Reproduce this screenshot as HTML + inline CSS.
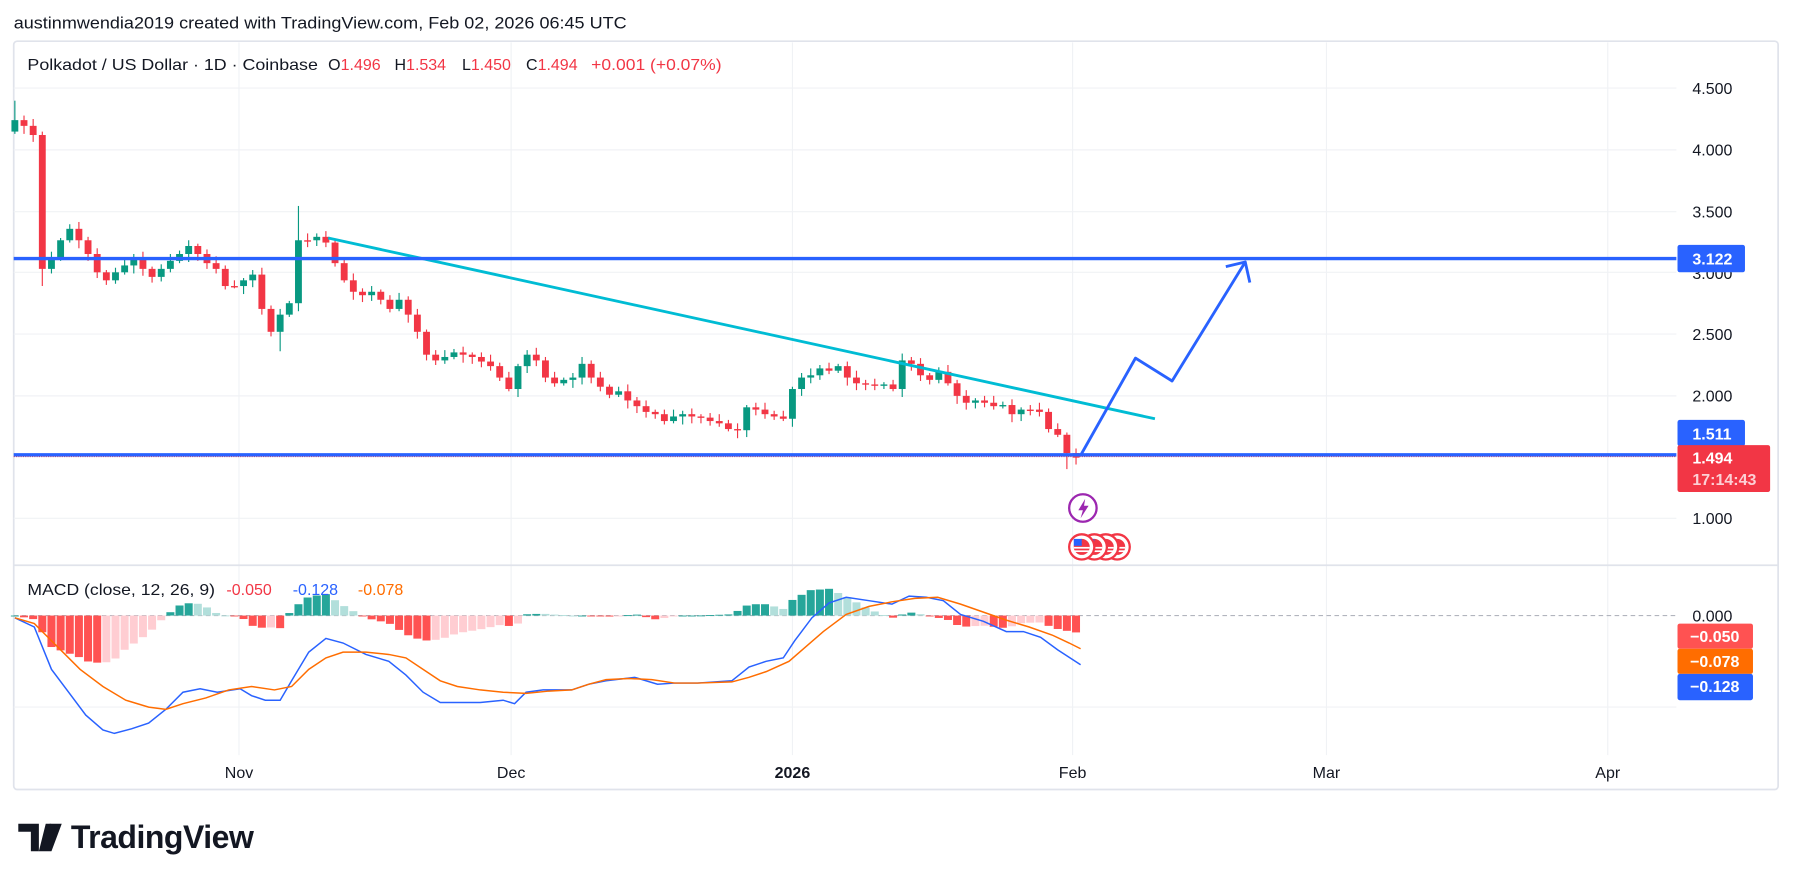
<!DOCTYPE html>
<html><head><meta charset="utf-8"><style>
html,body{margin:0;padding:0;background:#fff;width:1793px;height:881px;overflow:hidden}
svg{display:block}
text{font-family:"Liberation Sans","DejaVu Sans",sans-serif}
</style></head><body>
<svg id="s" width="1793" height="881" viewBox="0 0 1568 770" preserveAspectRatio="none" xmlns="http://www.w3.org/2000/svg">
<rect x="0" y="0" width="1568" height="770" fill="#fff"/>
<text x="12" y="25" font-size="14.5" fill="#131722" textLength="536" lengthAdjust="spacingAndGlyphs">austinmwendia2019 created with TradingView.com, Feb 02, 2026 06:45 UTC</text>
<rect x="12" y="36" width="1543" height="654" fill="#fff" stroke="#e0e3eb" stroke-width="1.5" rx="3"/>
<g id="grid" stroke="#f0f2f5" stroke-width="1"></g>
<line x1="12" y1="494" x2="1555" y2="494" stroke="#e0e3eb" stroke-width="1.5"/>
<line x1="12" y1="538" x2="1466" y2="538" stroke="#b2b5be" stroke-width="1" stroke-dasharray="4,3"/>
<g id="hist"></g>
<g id="candles"></g>
<polyline id="blue" fill="none" stroke="#2962ff" stroke-width="1.3"/>
<polyline id="orange" fill="none" stroke="#ff6d00" stroke-width="1.3"/>
<line x1="287" y1="208" x2="1010" y2="366" stroke="#00bcd4" stroke-width="2.5"/>
<line x1="12" y1="226" x2="1466" y2="226" stroke="#2962ff" stroke-width="3"/>
<line x1="12" y1="399" x2="1466" y2="399" stroke="#f23645" stroke-width="1" stroke-dasharray="1,1"/>
<line x1="12" y1="397.5" x2="1466" y2="397.5" stroke="#2962ff" stroke-width="3"/>
<polyline points="945,398 993,313 1025,333 1089,229" fill="none" stroke="#2962ff" stroke-width="2.5" stroke-linejoin="round"/>
<polyline points="1072,233 1089,229 1093,247" fill="none" stroke="#2962ff" stroke-width="2.5" stroke-linejoin="round"/>
<circle cx="947" cy="444" r="12" fill="#fff" stroke="#9c27b0" stroke-width="2"/>
<path d="M949 436 L943 446 L947 446 L945 453 L952 442 L948 442 Z" fill="#9c27b0"/>
<g id="flags"></g>
<g font-size="14" fill="#131722">
<text x="24" y="61" textLength="254" lengthAdjust="spacingAndGlyphs">Polkadot / US Dollar · 1D · Coinbase</text>
<text x="287" y="61">O<tspan fill="#f23645">1.496</tspan></text>
<text x="345" y="61">H<tspan fill="#f23645">1.534</tspan></text>
<text x="404" y="61">L<tspan fill="#f23645">1.450</tspan></text>
<text x="460" y="61">C<tspan fill="#f23645">1.494</tspan></text>
<text x="517" y="61" fill="#f23645" textLength="114" lengthAdjust="spacingAndGlyphs">+0.001 (+0.07%)</text>
<text x="24" y="520" textLength="164" lengthAdjust="spacingAndGlyphs">MACD (close, 12, 26, 9)</text>
<text x="198" y="520" fill="#f23645">-0.050</text>
<text x="256" y="520" fill="#2962ff">-0.128</text>
<text x="313" y="520" fill="#ff6d00">-0.078</text>
</g>
<g font-size="14" fill="#131722">
<text x="1480" y="82">4.500</text><text x="1480" y="136">4.000</text><text x="1480" y="190">3.500</text><text x="1480" y="244">3.000</text><text x="1480" y="297">2.500</text><text x="1480" y="351">2.000</text><text x="1480" y="458">1.000</text><text x="1480" y="543">0.000</text>
</g>
<rect x="1467" y="214" width="59" height="24" fill="#2962ff" rx="2"/><text x="1480" y="231" font-size="14" fill="#fff" font-weight="bold">3.122</text>
<rect x="1467" y="367" width="59" height="23" fill="#2962ff" rx="2"/><text x="1480" y="384" font-size="14" fill="#fff" font-weight="bold">1.511</text>
<rect x="1467" y="389" width="81" height="41" fill="#f23645" rx="2"/><text x="1480" y="405" font-size="14" fill="#fff" font-weight="bold">1.494</text><text x="1480" y="424" font-size="14" fill="#fcd0d5" font-weight="bold">17:14:43</text>
<rect x="1467" y="545" width="66" height="22" fill="#ff5252" rx="2"/><text x="1478" y="561" font-size="14" fill="#fff" font-weight="bold">−0.050</text>
<rect x="1467" y="567" width="66" height="22" fill="#ff6d00" rx="2"/><text x="1478" y="583" font-size="14" fill="#fff" font-weight="bold">−0.078</text>
<rect x="1467" y="589" width="66" height="23" fill="#2962ff" rx="2"/><text x="1478" y="605" font-size="14" fill="#fff" font-weight="bold">−0.128</text>
<g font-size="14" fill="#131722" text-anchor="middle">
<text x="209" y="680">Nov</text><text x="447" y="680">Dec</text><text x="693" y="680" font-weight="bold">2026</text><text x="938" y="680">Feb</text><text x="1160" y="680">Mar</text><text x="1406" y="680">Apr</text>
</g>
<text x="62" y="741" font-size="28" font-weight="bold" fill="#131722" textLength="160">TradingView</text>
<path d="M16 720 H34 V744 H27 V727 H16 Z M40 720 H54 L45 744 H34 Z" fill="#131722"/>
<circle cx="44" cy="724" r="4" fill="#131722"/>
</svg>
<script>
var NS="http://www.w3.org/2000/svg";
function el(t,a,p){var e=document.createElementNS(NS,t);for(var k in a)e.setAttribute(k,a[k]);document.getElementById(p).appendChild(e);return e;}
(function(){
[77,131,185,238,292,346,399,453].forEach(function(y){el('line',{x1:12,y1:y,x2:1466,y2:y},'grid')});
el('line',{x1:12,y1:618,x2:1466,y2:618},'grid');
[209,447,693,938,1160,1406].forEach(function(x){el('line',{x1:x,y1:37,x2:x,y2:660},'grid')});
var c=[105,110,118,235,225,210,200,210,222,238,245,238,232,225,235,242,235,228,222,215,222,230,235,250,250,245,240,270,290,275,265,210,210,207,212,230,245,255,258,255,262,270,262,275,290,310,315,312,308,310,312,316,320,330,340,320,310,315,330,335,332,330,318,330,338,345,342,350,355,360,362,368,364,362,364,365,368,370,375,376,356,358,362,364,366,340,330,328,322,324,320,330,335,336,337,336,340,315,318,328,332,325,335,346,352,350,352,355,354,362,358,358,360,375,380,396,400];
var prev=112;
for(var i=0;i<c.length;i++){
 var x=13+i*8, o=prev, cl=c[i]; if(i==0){o=115;}
 var up=cl<o, col=up?'#089981':'#f23645';
 var tp=Math.min(o,cl), bt=Math.max(o,cl);
 var wt=tp-2-((i*7)%5), wb=bt+2+((i*11)%6);
 if(i==0)wt=88; if(i==3)wb=250; if(i==31)wt=180; if(i==29)wb=307; if(i==115)wb=410;
 el('line',{x1:x,y1:wt,x2:x,y2:wb,stroke:col,'stroke-width':1},'candles');
 el('rect',{x:x-3,y:tp,width:6,height:Math.max(bt-tp,1.2),fill:col},'candles');
 prev=cl;
}
var B=[[13,540],[30,548],[45,585],[60,605],[75,625],[90,638],[100,641],[115,637],[130,632],[145,620],[160,605],[175,602],[190,605],[210,602],[220,608],[232,612],[245,612],[255,595],[270,570],[285,558],[300,562],[320,572],[340,578],[355,590],[370,605],[385,614],[400,614],[420,614],[440,612],[450,615],[460,605],[475,603],[500,603],[515,598],[530,595],[555,592],[575,598],[590,597],[610,597],[640,595],[655,583],[670,578],[685,575],[695,560],[710,540],[725,527],[740,522],[760,525],[780,528],[795,521],[810,522],[825,525],[840,537],[860,543],[880,552],[895,552],[910,557],[925,568],[945,581]];
var O=[[13,540],[30,545],[50,565],[70,585],[90,600],[110,612],[130,618],[145,620],[160,615],[180,610],[200,603],[220,600],[240,603],[255,600],[270,585],[285,575],[300,570],[320,570],[340,572],[355,575],[370,585],[385,595],[400,600],[420,603],[440,605],[460,606],[480,604],[500,603],[515,598],[530,594],[550,593],[570,594],[590,597],[610,597],[640,596],[655,592],[670,587],[690,578],[705,565],[720,552],[740,537],[760,530],[780,526],[800,523],[820,522],[840,528],[860,535],[880,542],[900,548],[920,555],[935,562],[945,567]];
document.getElementById('blue').setAttribute('points',B.map(function(p){return p.join(',')}).join(' '));
document.getElementById('orange').setAttribute('points',O.map(function(p){return p.join(',')}).join(' '));
function interp(A,x){for(var i=1;i<A.length;i++){if(x<=A[i][0]){var t=(x-A[i-1][0])/(A[i][0]-A[i-1][0]);return A[i-1][1]+t*(A[i][1]-A[i-1][1]);}}return A[A.length-1][1];}
var ph=0;
for(var i=0;i<c.length;i++){
 var x=13+i*8, h=(interp(O,x)-interp(B,x))*1.1, col;
 if(h>=0) col=h>=ph?'#26a69a':'#b2dfdb'; else col=h<=ph?'#ff5252':'#ffcdd2';
 var y=h>=0?538-h:538;
 el('rect',{x:x-3.5,y:y,width:7,height:Math.max(Math.abs(h),0.8),fill:col},'hist');
 ph=h;
}
[977,967,957,946].forEach(function(x){
 el('circle',{cx:x,cy:478,r:11,fill:'#fff',stroke:'#f23645','stroke-width':2},'flags');
 el('circle',{cx:x,cy:478,r:7,fill:'#f23645'},'flags');
 el('rect',{x:x-7,y:471,width:7,height:6,fill:'#2962ff'},'flags');
 el('rect',{x:x-7,y:478,width:14,height:1.5,fill:'#fff'},'flags');
 el('rect',{x:x-7,y:481,width:14,height:1.5,fill:'#fff'},'flags');
});
})();
</script>
</body></html>
